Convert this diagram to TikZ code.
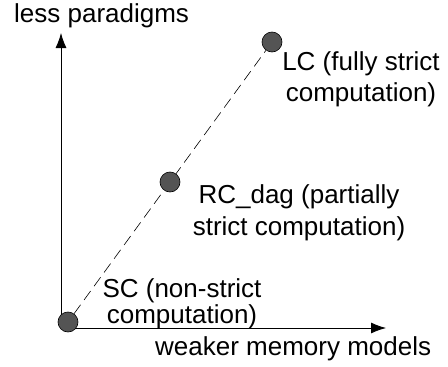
\documentclass[tikz,border=0pt]{standalone}
\usepackage{fontspec}
\setmainfont{Liberation Sans}
\usetikzlibrary{arrows.meta,calc}

\begin{document}
\begin{tikzpicture}[x=1pt,y=-1pt,
        dot/.style={circle,draw,fill=black!67,minimum size=20pt,inner sep=0pt,line width=0.6pt},
        axis/.style={line width=0.8pt,-{Latex[length=15pt,width=11pt]}},
        lbl/.style={font=\fontsize{26}{31}\selectfont,inner sep=0pt,align=center,anchor=base}]
   \useasboundingbox (0,0) rectangle (448,367);
   \coordinate (O) at (61,328);
   \coordinate (yend) at (61,33);
   \coordinate (xend) at (386,328);
   \draw[axis] (O) -- (yend);
   \draw[axis] (O) -- (xend);
   \node (yl) [lbl,anchor=base west] at (14,22) {less paradigms};
   \node (xl) [lbl,anchor=base west] at (155,355) {weaker memory models};
   % points on the diagonal
   \node (sc) [dot] at (68,322) {};
   \node (lc) [dot] at (272,42) {};
   \draw[dash pattern=on 11pt off 6pt,line width=0.6pt] (sc) -- (lc);
   \node (rc) [dot] at ($(sc)!0.5!(lc)$) {};
   \node (sct) [lbl,font=\fontsize{26}{26}\selectfont] at (182,323) {SC (non-strict\\computation)};
   \node (rct) [lbl,font=\fontsize{26}{32}\selectfont] at (299,235) {RC\_dag (partially\\strict computation)};
   \node (lct) [lbl] at (361,101) {LC (fully strict\\computation)};
\end{tikzpicture}
\end{document}
